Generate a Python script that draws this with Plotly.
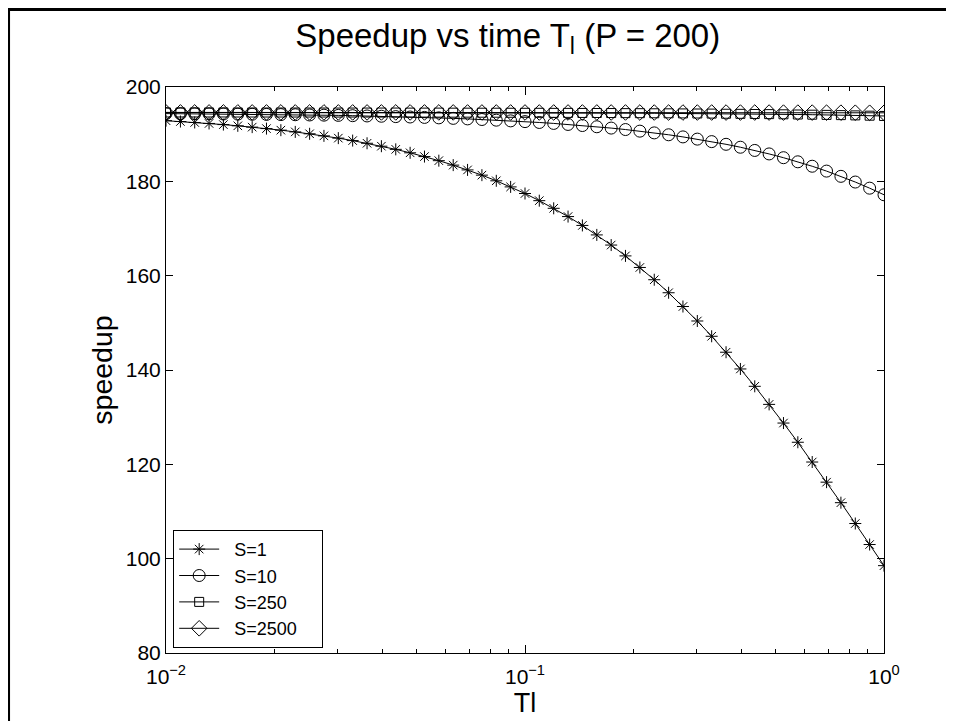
import plotly.graph_objects as go

# Tl values (log-spaced markers)
tl = [0.01, 0.01097, 0.01202, 0.01318, 0.01445, 0.01585, 0.01738, 0.01905, 0.02089, 0.02291,
      0.02512, 0.02754, 0.0302, 0.03311, 0.03631, 0.03981, 0.04365, 0.04786, 0.05248, 0.05754,
      0.0631, 0.06918, 0.07586, 0.08318, 0.0912, 0.1, 0.1096, 0.1202, 0.1318, 0.1445,
      0.1585, 0.1738, 0.1905, 0.2089, 0.2291, 0.2512, 0.2754, 0.302, 0.3311, 0.3631,
      0.3981, 0.4365, 0.4786, 0.5248, 0.5754, 0.631, 0.6918, 0.7586, 0.8318, 0.912, 1.0]

s1 = [192.86, 192.68, 192.48, 192.27, 192.03, 191.77, 191.49, 191.18, 190.85, 190.48,
      190.08, 189.64, 189.16, 188.64, 188.07, 187.45, 186.78, 186.05, 185.25, 184.38,
      183.44, 182.42, 181.31, 180.11, 178.82, 177.42, 175.90, 174.28, 172.53, 170.65,
      168.64, 166.49, 164.19, 161.74, 159.14, 156.38, 153.46, 150.39, 147.15, 143.77,
      140.22, 136.54, 132.71, 128.75, 124.68, 120.49, 116.22, 111.87, 107.45, 103.00, 98.52]

s10 = [194.36, 194.34, 194.32, 194.30, 194.28, 194.25, 194.22, 194.19, 194.15, 194.12,
       194.07, 194.03, 193.98, 193.92, 193.86, 193.80, 193.72, 193.64, 193.55, 193.46,
       193.35, 193.24, 193.11, 192.97, 192.82, 192.66, 192.48, 192.28, 192.06, 191.83,
       191.57, 191.29, 190.98, 190.64, 190.27, 189.87, 189.42, 188.95, 188.42, 187.85,
       187.23, 186.55, 185.81, 185.01, 184.14, 183.20, 182.17, 181.06, 179.85, 178.55, 177.15]

s250 = [194.60, 194.60, 194.60, 194.60, 194.60, 194.59, 194.59, 194.59, 194.59, 194.59,
        194.59, 194.59, 194.58, 194.58, 194.58, 194.58, 194.58, 194.57, 194.57, 194.57,
        194.56, 194.56, 194.55, 194.55, 194.54, 194.53, 194.53, 194.52, 194.51, 194.50,
        194.49, 194.48, 194.46, 194.45, 194.43, 194.42, 194.40, 194.38, 194.36, 194.33,
        194.31, 194.28, 194.25, 194.21, 194.17, 194.13, 194.09, 194.04, 193.98, 193.92, 193.86]

s2500 = [194.61, 194.61, 194.61, 194.61, 194.61, 194.61, 194.61, 194.61, 194.61, 194.61,
         194.61, 194.61, 194.61, 194.61, 194.61, 194.61, 194.61, 194.61, 194.61, 194.61,
         194.61, 194.60, 194.60, 194.60, 194.60, 194.60, 194.60, 194.60, 194.60, 194.60,
         194.60, 194.60, 194.60, 194.59, 194.59, 194.59, 194.59, 194.59, 194.59, 194.58,
         194.58, 194.58, 194.58, 194.57, 194.57, 194.57, 194.56, 194.56, 194.55, 194.54, 194.53]

series_names = ["S=1", "S=10", "S=250", "S=2500"]
series_values = [s1, s10, s250, s2500]
symbols = ["asterisk-open", "circle-open", "square-open", "diamond-open"]
sizes = [10, 12, 9, 12]

x_tick_vals = [0.01, 0.1, 1]
x_tick_text = ["10<sup>\u22122</sup>", "10<sup>\u22121</sup>", "10<sup>0</sup>"]
x_minor_vals = [m * d for d in (0.01, 0.1) for m in range(2, 10)]
y_tick_vals = [80, 100, 120, 140, 160, 180, 200]

FONT = "Liberation Sans, Arial, Helvetica, sans-serif"
PAD = "\u00a0\u00a0"

fig = go.Figure()
for name, vals, sym, sz in zip(series_names, series_values, symbols, sizes):
    fig.add_trace(go.Scatter(
        x=tl, y=vals, name=PAD + name + PAD + PAD, mode="lines+markers",
        line=dict(color="black", width=1),
        marker=dict(symbol=sym, size=sz, color="black", line=dict(color="black", width=1)),
    ))

fig.update_layout(
    width=954, height=721,
    paper_bgcolor="white", plot_bgcolor="white",
    margin=dict(l=158, r=78, t=79, b=76),
    font=dict(family=FONT, color="black", size=21),
    title=dict(text="Speedup vs time T<sub>l</sub> (P = 200)", x=0.476, xref="paper",
               xanchor="center", y=0.962, yanchor="middle",
               font=dict(size=33, family=FONT, color="black")),
    showlegend=True,
    legend=dict(x=0.01, y=0.009, xanchor="left", yanchor="bottom",
                bgcolor="white", bordercolor="black", borderwidth=1,
                font=dict(size=18, family=FONT, color="black"),
                itemwidth=40),
    shapes=[dict(type="rect", xref="paper", yref="paper",
                 x0=-0.2193, x1=1.0961, y0=-0.3, y1=1.137,
                 line=dict(color="black", width=3), fillcolor="rgba(0,0,0,0)", layer="above")],
)

fig.update_xaxes(
    type="log", range=[-2, 0],
    tickmode="array", tickvals=x_tick_vals, ticktext=x_tick_text,
    ticks="inside", ticklen=8, tickwidth=1, tickcolor="black",
    minor=dict(tickmode="array", tickvals=x_minor_vals, ticks="inside", ticklen=4,
               tickcolor="black", showgrid=False),
    showline=True, linecolor="black", linewidth=1, mirror="allticks",
    showgrid=False, zeroline=False, ticklabelstandoff=5,
    tickfont=dict(size=21, family=FONT, color="black"),
    title=dict(text="Tl", font=dict(size=27, family=FONT, color="black"), standoff=0),
)
fig.update_yaxes(
    range=[80, 200], tickmode="array", tickvals=y_tick_vals,
    ticks="inside", ticklen=7, tickwidth=1, tickcolor="black",
    showline=True, linecolor="black", linewidth=1, mirror="allticks",
    showgrid=False, zeroline=False,
    tickfont=dict(size=21, family=FONT, color="black"),
    title=dict(text="speedup", font=dict(size=28.5, family=FONT, color="black"), standoff=4),
)

fig.write_html("out.html")
